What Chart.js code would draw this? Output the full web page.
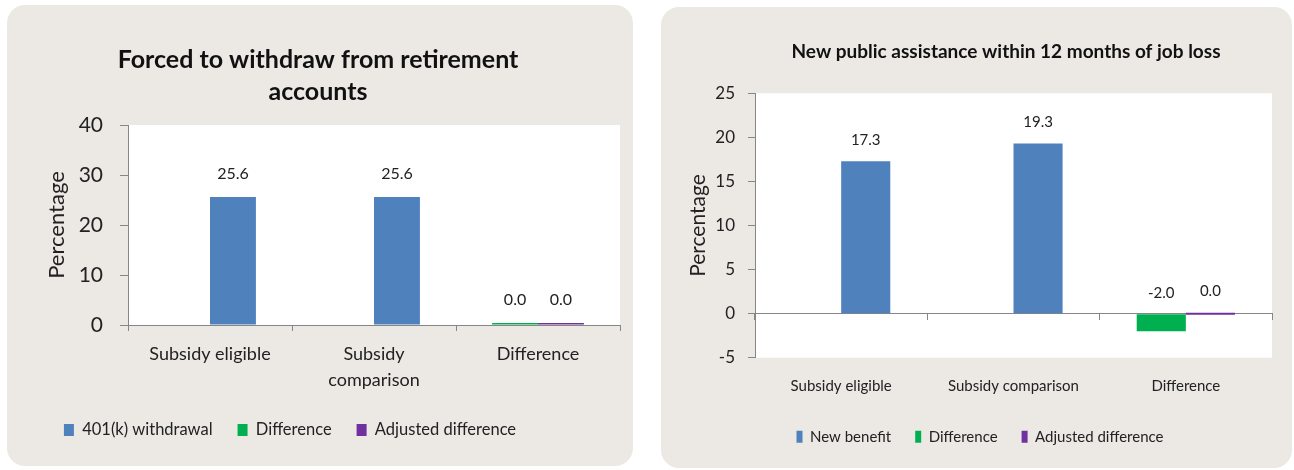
<!DOCTYPE html>
<html><head><meta charset="utf-8">
<script src="https://cdn.jsdelivr.net/npm/chart.js@4.4.1/dist/chart.umd.min.js"></script>
<style>
html,body{margin:0;padding:0;background:#fff;width:1294px;height:470px;overflow:hidden;}
.panel{position:absolute;background:#ECE9E5;border-radius:18px;overflow:hidden;}
#p1{left:7px;top:5px;width:626px;height:461px;}
#p2{left:661px;top:7px;width:631px;height:461px;}
canvas{display:block;}
</style></head><body>
<div class="panel" id="p1"><canvas id="c1" width="626" height="461"></canvas></div>
<div class="panel" id="p2"><canvas id="c2" width="631" height="461"></canvas></div>
<script>
// ---- Left chart data ----
const title1 = ['Forced to withdraw from retirement', 'accounts'];
const categories1 = [['Subsidy eligible'], ['Subsidy', 'comparison'], ['Difference']];
const withdrawal401k = [25.6, 25.6, null];
const difference1 = [null, null, 0.0];
const adjustedDifference1 = [null, null, 0.0];
const yTicks1 = [0, 10, 20, 30, 40];

// ---- Right chart data ----
const title2 = 'New public assistance within 12 months of job loss';
const categories2 = ['Subsidy eligible', 'Subsidy comparison', 'Difference'];
const newBenefit = [17.3, 19.3, null];
const difference2 = [null, null, -2.0];
const adjustedDifference2 = [null, null, 0.0];
const yTicks2 = [-5, 0, 5, 10, 15, 20, 25];

const BLUE = '#4F81BD', GREEN = '#00B050', PURPLE = '#7030A0';
const AXIS = '#868686', TEXT = '#222222';
const FONT = 'Lato';

const decoPlugin = {
  id: 'deco',
  afterLayout(chart, args, opts) {
    if (chart.titleBlock) { chart.titleBlock.left += opts.titleShift; chart.titleBlock.right += opts.titleShift; }
    if (chart.legend) { chart.legend.left += opts.legendShift; chart.legend.right += opts.legendShift; }
  },
  beforeDraw(chart) {
    const {ctx, chartArea: a} = chart;
    ctx.save();
    ctx.fillStyle = '#FFFFFF';
    ctx.fillRect(a.left, a.top, a.right - a.left, a.bottom - a.top);
    ctx.restore();
  },
  afterDatasetsDraw(chart, args, opts) {
    const ctx = chart.ctx;
    ctx.save();
    ctx.font = opts.labelSize + 'px ' + FONT;
    ctx.fillStyle = TEXT;
    ctx.textAlign = 'center';
    ctx.textBaseline = 'middle';
    chart.data.datasets.forEach((ds, i) => {
      const meta = chart.getDatasetMeta(i);
      meta.data.forEach((el, j) => {
        const v = ds.data[j];
        if (v === null || v === undefined) return;
        const y = Math.min(el.y, el.base) - opts.labelOffset;
        ctx.fillText(v.toFixed(1), el.x, y);
      });
    });
    ctx.restore();
  }
};

new Chart(document.getElementById('c1'), {
  type: 'bar',
  data: {
    labels: categories1,
    datasets: [
      {label: '401(k) withdrawal', data: withdrawal401k, backgroundColor: BLUE, stack: 'b', order: 1},
      {label: 'Difference', data: difference1, backgroundColor: GREEN, stack: 'a', order: 0},
      {label: 'Adjusted difference', data: adjustedDifference1, backgroundColor: PURPLE, stack: 'b', order: 2}
    ]
  },
  options: {
    responsive: false, animation: false, devicePixelRatio: 1,
    categoryPercentage: 0.56, barPercentage: 1, minBarLength: 2,
    layout: {padding: {left: 0, right: 13, top: 0, bottom: 17.75}},
    scales: {
      x: {
        offset: true,
        grid: {display: true, drawOnChartArea: false, drawTicks: true, tickLength: 6, color: AXIS, offset: true},
        border: {display: true, color: AXIS},
        ticks: {color: TEXT, font: {family: FONT, size: 18, lineHeight: 1.44}, padding: 10, maxRotation: 0, autoSkip: false},
        afterFit(s) { s.height = 71.75; }
      },
      y: {
        min: 0, max: 40, stacked: true,
        afterBuildTicks(s) { s.ticks = yTicks1.map(v => ({value: v})); },
        grid: {drawOnChartArea: false, tickLength: 8, color: AXIS},
        border: {color: AXIS},
        ticks: {color: TEXT, font: {family: FONT, size: 21}, padding: 17},
        title: {display: true, text: 'Percentage', color: TEXT, font: {family: FONT, size: 22}, padding: {top: 36.8, bottom: 0}},
        afterFit(s) { s.width = 121; }
      }
    },
    plugins: {
      title: {display: true, text: title1, color: '#111', font: {family: FONT, size: 25, weight: 'bold', lineHeight: 32/25}, padding: {top: 39, bottom: 17}},
      legend: {position: 'bottom', labels: {boxWidth: 10, boxHeight: 12, padding: 25, color: TEXT, font: {family: FONT, size: 16.5}, sort: (a, b) => a.datasetIndex - b.datasetIndex}},
      tooltip: {enabled: false},
      deco: {titleShift: 4.5, legendShift: -23.5, labelSize: 16, labelOffset: 23}
    }
  },
  plugins: [decoPlugin]
});

new Chart(document.getElementById('c2'), {
  type: 'bar',
  data: {
    labels: categories2,
    datasets: [
      {label: 'New benefit', data: newBenefit, backgroundColor: BLUE, stack: 'b', order: 1},
      {label: 'Difference', data: difference2, backgroundColor: GREEN, stack: 'a', order: 0},
      {label: 'Adjusted difference', data: adjustedDifference2, backgroundColor: PURPLE, stack: 'b', order: 2}
    ]
  },
  options: {
    responsive: false, animation: false, devicePixelRatio: 1,
    categoryPercentage: 0.57, barPercentage: 1, minBarLength: 2,
    layout: {padding: {left: 0, right: 20, top: 0, bottom: 13.8}},
    scales: {
      x: {
        offset: true,
        grid: {display: false, drawTicks: false},
        border: {display: false},
        ticks: {color: TEXT, font: {family: FONT, size: 15, lineHeight: 1.2}, padding: 19.3, maxRotation: 0, autoSkip: false},
        afterFit(s) { s.height = 47.5; }
      },
      x2: {
        type: 'category', labels: categories2, position: {y: 0}, offset: true,
        grid: {display: true, drawOnChartArea: false, drawTicks: true, tickLength: 6, color: AXIS, offset: true},
        border: {display: true, color: AXIS},
        ticks: {display: false}
      },
      y: {
        min: -5, max: 25, stacked: true,
        afterBuildTicks(s) { s.ticks = yTicks2.map(v => ({value: v})); },
        grid: {drawOnChartArea: false, tickLength: 7, color: AXIS},
        border: {color: AXIS},
        ticks: {color: TEXT, font: {family: FONT, size: 17}, padding: 13},
        title: {display: true, text: 'Percentage', color: TEXT, font: {family: FONT, size: 21}, padding: {top: 24.4, bottom: 0}},
        afterFit(s) { s.width = 94; }
      }
    },
    plugins: {
      title: {display: true, text: title2, color: '#111', font: {family: FONT, size: 19, weight: 'bold', lineHeight: 1.2}, padding: {top: 33.6, bottom: 29.9}},
      legend: {position: 'bottom', labels: {boxWidth: 6, boxHeight: 12, padding: 24, color: TEXT, font: {family: FONT, size: 15}, sort: (a, b) => a.datasetIndex - b.datasetIndex}},
      tooltip: {enabled: false},
      deco: {titleShift: 39.5, legendShift: 13.5, labelSize: 15, labelOffset: 21}
    }
  },
  plugins: [decoPlugin]
});
</script>
</body></html>
